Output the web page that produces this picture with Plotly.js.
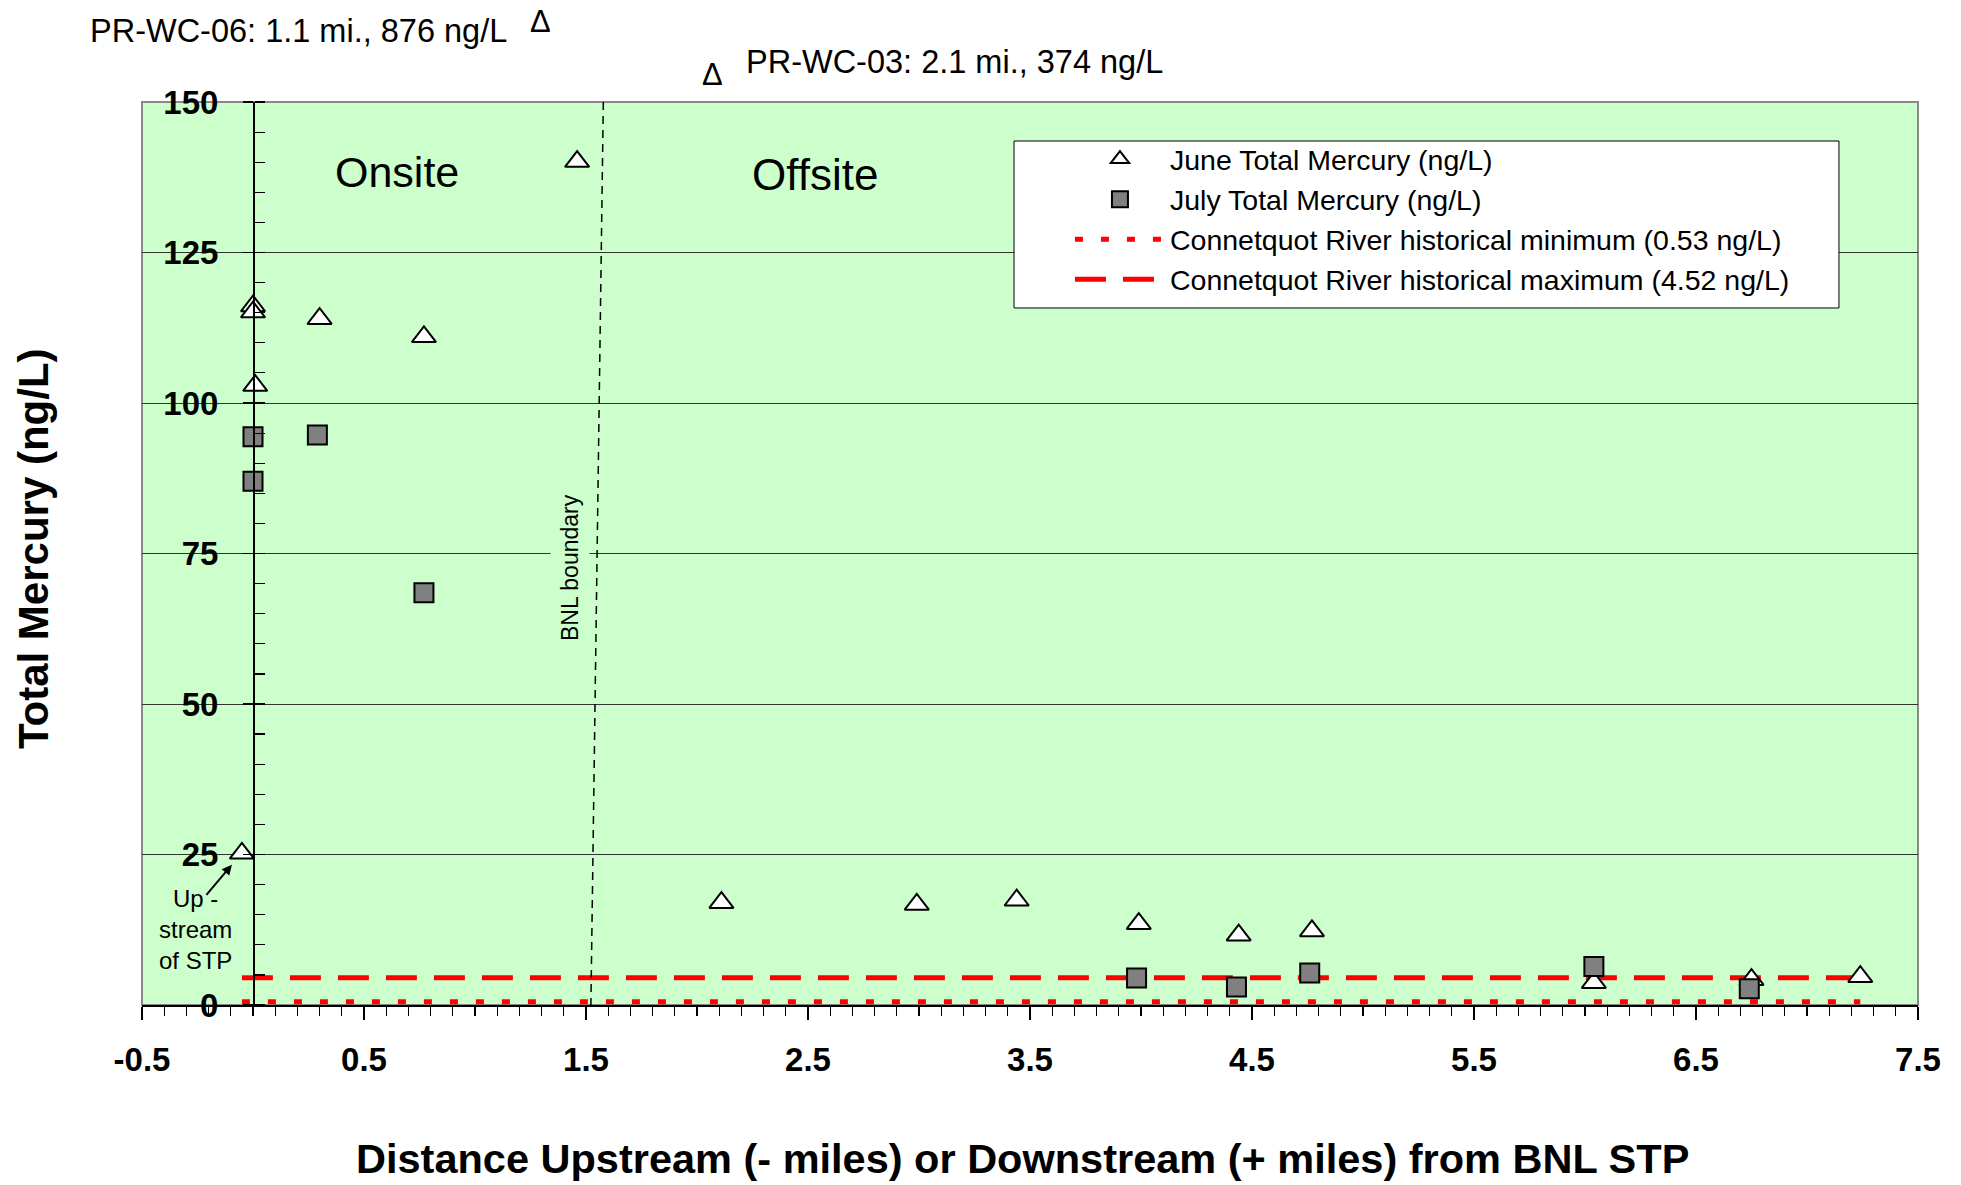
<!DOCTYPE html>
<html>
<head>
<meta charset="utf-8">
<script src="https://cdn.plot.ly/plotly-3.0.1.min.js"></script>
<style>body{margin:0;background:#fff;}#chart{width:1961px;height:1185px;}</style>
</head>
<body>
<div id="chart"></div>
<script>
// June total mercury (ng/L) by distance from BNL STP (miles)
const juneX = [-0.05, 0.00, 0.00, 0.01, 0.30, 0.77, 1.46, 2.11, 2.99, 3.44, 3.99, 4.44, 4.77, 6.04, 6.75, 7.24];
const juneY = [25.2, 116.1, 115.1, 102.9, 114.0, 111.0, 140.1, 17.0, 16.7, 17.4, 13.5, 11.6, 12.3, 3.7, 4.2, 4.7];
// July total mercury (ng/L)
const julyX = [0.00, 0.00, 0.29, 0.77, 3.98, 4.43, 4.76, 6.04, 6.74];
const julyY = [94.4, 87.0, 94.7, 68.5, 4.5, 3.0, 5.3, 6.4, 2.7];
// Connetquot River historical references
const histX = [-0.05, 7.24];
const histMin = [0.53, 0.53];
const histMax = [4.52, 4.52];
// BNL boundary (slightly slanted in the original)
const boundaryX = [1.578, 1.522];
const boundaryY = [150, 0];
// Off-scale samples
const offscaleLabels = ["PR-WC-06: 1.1 mi., 876 ng/L", "PR-WC-03: 2.1 mi., 374 ng/L"];
// Axis ticks
const xTickVals = [-0.5, 0.5, 1.5, 2.5, 3.5, 4.5, 5.5, 6.5, 7.5];
const xTickText = ["-0.5", "0.5", "1.5", "2.5", "3.5", "4.5", "5.5", "6.5", "7.5"];
const yTickVals = [0, 25, 50, 75, 100, 125, 150];
const yTickText = ["0", "25", "50", "75", "100", "125", "150"];
const seriesNames = ["June Total Mercury (ng/L)", "July Total Mercury (ng/L)",
  "Connetquot River historical minimum (0.53 ng/L)", "Connetquot River historical maximum (4.52 ng/L)"];

const FONT = "Liberation Sans, Arial, sans-serif";

const traces = [
  {x: histX, y: histMin, mode: 'lines', name: seriesNames[2], legendrank: 3, legendgroup: 'c',
   line: {color: '#FF0000', width: 5, dash: '8px,18px'}},
  {x: histX, y: histMax, mode: 'lines', name: seriesNames[3], legendrank: 4, legendgroup: 'd',
   line: {color: '#FF0000', width: 5, dash: '31px,17px'}},
  {x: juneX, y: juneY, mode: 'markers', name: seriesNames[0], legendrank: 1, legendgroup: 'a',
   marker: {symbol: 'triangle-up', size: 21, color: '#FFFFFF', line: {color: '#000000', width: 2}}},
  {x: julyX, y: julyY, mode: 'markers', name: seriesNames[1], legendrank: 2, legendgroup: 'b',
   marker: {symbol: 'square', size: 19, color: '#808080', line: {color: '#000000', width: 2}}}
];

const layout = {
  width: 1961, height: 1185,
  margin: {l: 142, r: 43, t: 102, b: 180},
  paper_bgcolor: '#FFFFFF',
  plot_bgcolor: '#CCFFCC',
  font: {family: FONT, color: '#000000'},
  showlegend: true,
  legend: {
    x: 0.5225, y: 0.9645, xanchor: 'left', yanchor: 'top',
    bgcolor: 'rgba(0,0,0,0)', borderwidth: 0,
    font: {family: FONT, size: 28.5, color: '#000'},
    itemwidth: 90, tracegroupgap: 4, traceorder: 'normal'
  },
  xaxis: {
    range: [-0.5, 7.5], showgrid: false, zeroline: false,
    showline: true, linecolor: '#000', linewidth: 2,
    tickmode: 'array', tickvals: xTickVals, ticktext: xTickText,
    ticks: 'outside', ticklen: 13, tickwidth: 1.5, tickcolor: '#000',
    ticklabelstandoff: 11,
    tickfont: {family: FONT, size: 33, weight: 'bold', color: '#000'},
    minor: {dtick: 0.1, tick0: -0.5, ticks: 'outside', ticklen: 9, tickwidth: 1.2, tickcolor: '#000', showgrid: false}
  },
  yaxis: {
    range: [0, 150], anchor: 'free', position: 0.0625,
    showgrid: true, gridcolor: '#333333', gridwidth: 1, zeroline: false,
    showline: true, linecolor: '#000', linewidth: 1.5,
    tickmode: 'array', tickvals: yTickVals, ticktext: yTickText,
    ticks: 'outside', ticklen: 10, tickwidth: 1.5, tickcolor: '#000',
    ticklabelstandoff: 18,
    tickfont: {family: FONT, size: 33, weight: 'bold', color: '#000'},
    minor: {dtick: 5, ticks: 'inside', ticklen: 10, tickwidth: 1.2, tickcolor: '#000', showgrid: false}
  },
  shapes: [
    {type: 'rect', xref: 'paper', yref: 'paper', x0: 0, x1: 1, y0: 0, y1: 1,
     line: {color: '#888888', width: 2}, layer: 'below'},
    {type: 'line', xref: 'x', yref: 'y', x0: boundaryX[0], y0: boundaryY[0], x1: boundaryX[1], y1: boundaryY[1],
     line: {color: '#000', width: 1.5, dash: '8px,6px'}, layer: 'above'},
    {type: 'rect', xref: 'paper', yref: 'paper', x0: 0.491, x1: 0.9555, y0: 0.7719, y1: 0.9568,
     fillcolor: '#FFFFFF', line: {color: '#000', width: 1}, layer: 'above'}
  ],
  annotations: [
    {text: 'Total Mercury (ng/L)', xref: 'paper', yref: 'paper', x: -0.0614, y: 0.506,
     xanchor: 'center', yanchor: 'middle',
     textangle: -90, showarrow: false, font: {family: FONT, size: 42, weight: 'bold'}},
    {text: 'Distance Upstream (- miles) or Downstream (+ miles) from BNL STP', xref: 'paper', yref: 'paper',
     x: 0.4958, y: -0.170, xanchor: 'center', yanchor: 'middle',
     showarrow: false, font: {family: FONT, size: 41.5, weight: 'bold'}},
    {text: 'Onsite', xref: 'x', yref: 'y', x: 0.647, y: 138.3, showarrow: false, font: {family: FONT, size: 43}},
    {text: 'Offsite', xref: 'x', yref: 'y', x: 2.53, y: 138.0, showarrow: false, font: {family: FONT, size: 44}},
    {text: 'BNL boundary', xref: 'x', yref: 'y', x: 1.428, y: 72.6, textangle: -90, showarrow: false,
     bgcolor: '#CCFFCC', borderpad: 6, font: {family: FONT, size: 23}},
    {text: 'Up -<br>stream<br>of STP', xref: 'x', yref: 'y', x: -0.257, y: 12.5, showarrow: false,
     font: {family: FONT, size: 24}},
    {text: ' ', xref: 'x', yref: 'y', x: -0.095, y: 23.3, showarrow: true, ax: -27, ay: 32,
     arrowhead: 2, arrowsize: 1, arrowwidth: 2, arrowcolor: '#000', font: {size: 1}},
    {text: offscaleLabels[0], xref: 'x', yref: 'paper', x: 0.203, y: 1.0786, yanchor: 'middle', showarrow: false,
     font: {family: FONT, size: 32.5}},
    {text: 'Δ', xref: 'x', yref: 'paper', x: 1.293, y: 1.0886, yanchor: 'middle', showarrow: false,
     font: {family: FONT, size: 31}},
    {text: 'Δ', xref: 'x', yref: 'paper', x: 2.072, y: 1.031, yanchor: 'middle', showarrow: false,
     font: {family: FONT, size: 31}},
    {text: offscaleLabels[1], xref: 'x', yref: 'paper', x: 3.16, y: 1.0443, yanchor: 'middle', showarrow: false,
     font: {family: FONT, size: 32.5}}
  ]
};

Plotly.newPlot('chart', traces, layout, {displayModeBar: false, staticPlot: true});
</script>
</body>
</html>
